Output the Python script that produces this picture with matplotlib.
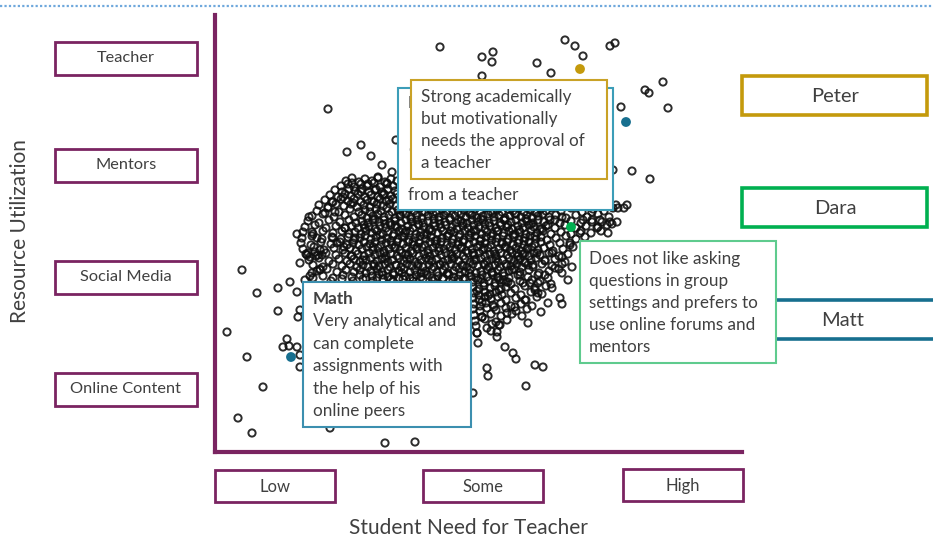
import matplotlib
matplotlib.use("Agg")
import matplotlib.pyplot as plt
from matplotlib.patches import Rectangle
import numpy as np

FONT = ['Lato', 'DejaVu Sans']
TEXT = '#404040'
PURPLE = '#7A2461'
GOLD = '#C49A0C'
GREEN = '#00B050'
TEAL = '#176F8F'

# Student need for teacher (x) vs resource utilization (y), arbitrary units.
# Sparse students around the edge of the cloud
spread_pts = [
    (225, 405), (267, 395), (278, 400), (277, 390), (322, 389), (336, 379), (350, 412),
    (360, 406), (368, 396), (395, 406), (400, 409), (267, 376), (448, 370), (430, 362),
    (434, 359), (453, 344), (406, 345), (398, 282), (417, 281), (435, 273), (412, 247),
    (403, 244), (377, 240), (368, 232), (377, 230), (385, 232), (395, 230), (402, 230),
    (383, 225), (393, 219), (365, 219), (347, 235), (340, 232),
    (113, 343), (132, 300), (146, 307), (156, 296), (167, 287), (163, 275), (177, 280),
    (172, 269), (181, 312), (137, 269),
    (117, 250), (110, 239), (120, 240), (94, 235), (82, 218), (97, 220), (102, 214),
    (130, 224), (118, 214), (122, 209), (105, 202), (93, 199), (95, 195), (103, 197),
    (85, 189), (105, 183), (27, 182), (75, 170), (63, 164), (42, 159), (82, 160),
    (95, 176), (98, 174), (92, 197), (100, 200), (107, 197), (97, 179), (105, 182), (90, 172),
    (63, 141), (85, 142), (83, 135), (12, 120), (32, 95), (72, 113), (68, 105), (74, 106),
    (82, 105), (85, 97), (85, 85), (48, 65), (23, 34), (37, 19), (115, 24), (170, 9), (200, 10),
    (337, 164), (345, 154), (347, 148), (333, 149), (326, 140), (313, 129), (290, 105),
    (298, 99), (301, 93), (320, 87), (328, 85), (272, 84), (273, 76), (311, 66), (258, 59),
    (282, 115), (282, 120), (277, 128), (285, 127), (263, 109), (262, 119), (267, 135),
    (292, 139), (300, 145), (310, 152), (323, 159), (320, 162), (353, 172), (347, 179),
    (357, 185), (347, 195), (355, 209), (340, 184), (330, 177), (318, 187), (310, 189),
    (305, 177), (297, 182), (293, 170), (283, 175), (308, 169), (317, 172), (323, 169),
    (330, 192), (337, 199), (322, 199), (310, 199),
]

# Dense middle of the cloud
core_pts = [
    (131, 271), (137, 274), (144, 270), (150, 273), (157, 271), (163, 274), (170, 270), (176, 273), (182, 271),
    (126, 266), (133, 268), (139, 265), (146, 268), (152, 266), (159, 269), (165, 265), (172, 268), (178, 266),
    (120, 262), (127, 260), (134, 263), (140, 261), (147, 263), (154, 260), (160, 262), (167, 260), (173, 263), (180, 261),
    (115, 257), (123, 255), (130, 258), (136, 256), (143, 258), (150, 255), (156, 257), (163, 255), (169, 258), (176, 256), (182, 258),
    (110, 252), (118, 250), (126, 253), (133, 251), (139, 253), (146, 250), (152, 252), (159, 250), (165, 253), (171, 251), (178, 253),
    (104, 247), (113, 245), (121, 248), (129, 246), (136, 248), (142, 245), (149, 247), (155, 245), (162, 248), (168, 246), (175, 248),
    (181, 246), (401, 247), (409, 244),
    (102, 241), (113, 244), (124, 240), (135, 243), (144, 240), (150, 242), (155, 240), (161, 243), (166, 241), (172, 244), (177, 240),
    (183, 242), (188, 240), (194, 243), (199, 241), (205, 244), (210, 240), (216, 242), (221, 240), (227, 243), (232, 241), (238, 244),
    (243, 240), (249, 242), (254, 240), (260, 243), (265, 241), (271, 244), (276, 240), (282, 242), (287, 240), (293, 243), (298, 241),
    (304, 244), (309, 240), (315, 242), (320, 240), (326, 243), (331, 241), (337, 244), (346, 241), (356, 244), (367, 240), (378, 243),
    (389, 241), (398, 244),
    (97, 236), (108, 238), (119, 235), (130, 237), (139, 235), (147, 237), (152, 234), (158, 236), (163, 238), (169, 235), (174, 237),
    (180, 234), (185, 236), (191, 238), (196, 235), (202, 237), (207, 234), (213, 236), (218, 238), (224, 235), (229, 237), (235, 234),
    (240, 236), (246, 238), (251, 235), (257, 237), (262, 234), (268, 236), (273, 238), (279, 235), (284, 237), (290, 234), (295, 236),
    (301, 238), (306, 235), (312, 237), (317, 234), (323, 236), (328, 238), (334, 235), (341, 237), (351, 234), (361, 237), (372, 235),
    (383, 238), (394, 235),
    (93, 231), (104, 229), (114, 232), (125, 230), (134, 232), (141, 229), (147, 231), (153, 229), (158, 232), (164, 230), (169, 232),
    (175, 229), (180, 231), (186, 229), (191, 232), (197, 230), (202, 232), (208, 229), (213, 231), (219, 229), (224, 232), (230, 230),
    (235, 232), (241, 229), (246, 231), (252, 229), (257, 232), (263, 230), (268, 232), (274, 229), (279, 231), (285, 229), (290, 232),
    (296, 230), (301, 232), (307, 229), (312, 231), (318, 229), (323, 232), (329, 230), (335, 232), (345, 229), (356, 231), (366, 229),
    (377, 232), (387, 230), (397, 228),
    (90, 225), (100, 227), (111, 224), (121, 226), (130, 224), (137, 226), (143, 224), (149, 227), (154, 225), (160, 223), (165, 226),
    (171, 224), (176, 227), (182, 225), (187, 223), (193, 226), (198, 224), (204, 227), (209, 225), (215, 223), (220, 226), (226, 224),
    (231, 227), (237, 225), (242, 223), (248, 226), (253, 224), (259, 227), (264, 225), (270, 223), (275, 226), (281, 224), (286, 227),
    (292, 225), (297, 223), (303, 226), (308, 224), (314, 227), (319, 225), (325, 223), (331, 226), (340, 224), (350, 227), (361, 224),
    (371, 226), (382, 224), (392, 227),
    (88, 220), (98, 218), (108, 221), (118, 219), (127, 221), (134, 218), (140, 220), (146, 218), (151, 221), (157, 219), (162, 221),
    (168, 218), (173, 220), (179, 218), (184, 221), (190, 219), (195, 221), (201, 218), (206, 220), (212, 218), (217, 221), (223, 219),
    (228, 221), (234, 218), (239, 220), (245, 218), (250, 221), (256, 219), (261, 221), (267, 218), (272, 220), (278, 218), (283, 221),
    (289, 219), (294, 221), (300, 218), (305, 220), (311, 218), (316, 221), (322, 219), (328, 221), (336, 218), (346, 220), (356, 218),
    (366, 221), (376, 219), (386, 221),
    (87, 214), (97, 216), (107, 213), (117, 215), (126, 213), (133, 215), (139, 212), (145, 214), (150, 216), (156, 213), (161, 215),
    (167, 212), (172, 214), (178, 216), (183, 213), (189, 215), (194, 212), (200, 214), (205, 216), (211, 213), (216, 215), (222, 212),
    (227, 214), (233, 216), (238, 213), (244, 215), (249, 212), (255, 214), (260, 216), (266, 213), (271, 215), (277, 212), (282, 214),
    (288, 216), (293, 213), (299, 215), (304, 212), (310, 214), (315, 216), (321, 213), (326, 215), (332, 212), (341, 214), (351, 216),
    (361, 213), (370, 215),
    (86, 209), (96, 207), (106, 210), (116, 208), (125, 210), (132, 207), (138, 209), (144, 207), (149, 210), (155, 208), (160, 210),
    (166, 207), (171, 209), (177, 207), (182, 210), (188, 208), (193, 210), (199, 207), (204, 209), (210, 207), (215, 210), (221, 208),
    (226, 210), (232, 207), (237, 209), (243, 207), (248, 210), (254, 208), (259, 210), (265, 207), (270, 209), (276, 207), (281, 210),
    (287, 208), (292, 210), (298, 207), (303, 209), (309, 207), (314, 210), (320, 208), (326, 210), (335, 207), (345, 209), (355, 207),
    (88, 203), (99, 205), (109, 202), (119, 204), (128, 202), (135, 204), (141, 201), (147, 203), (152, 205), (158, 202), (163, 204),
    (169, 201), (174, 203), (180, 205), (185, 202), (191, 204), (196, 201), (202, 203), (207, 205), (213, 202), (218, 204), (224, 201),
    (229, 203), (235, 205), (240, 202), (246, 204), (251, 201), (257, 203), (262, 205), (268, 202), (273, 204), (279, 201), (284, 203),
    (290, 205), (295, 202), (301, 204), (306, 201), (312, 203), (317, 205), (323, 202), (329, 204), (338, 201), (348, 203), (358, 205),
    (91, 198), (101, 196), (111, 199), (121, 197), (130, 199), (137, 196), (143, 198), (149, 196), (154, 199), (160, 197), (165, 199),
    (171, 196), (176, 198), (182, 196), (187, 199), (193, 197), (198, 199), (204, 196), (209, 198), (215, 196), (220, 199), (226, 197),
    (231, 199), (237, 196), (242, 198), (248, 196), (253, 199), (259, 197), (264, 199), (270, 196), (275, 198), (281, 196), (286, 199),
    (292, 197), (297, 199), (303, 196), (308, 198), (314, 196), (319, 199), (325, 197), (334, 199), (344, 196), (353, 198),
    (94, 192), (104, 194), (114, 191), (124, 193), (132, 191), (139, 193), (145, 190), (151, 192), (156, 194), (162, 191), (167, 193),
    (173, 190), (178, 192), (184, 194), (189, 191), (195, 193), (200, 190), (206, 192), (211, 194), (217, 191), (222, 193), (228, 190),
    (233, 192), (239, 194), (244, 191), (250, 193), (255, 190), (261, 192), (266, 194), (272, 191), (277, 193), (283, 190), (288, 192),
    (294, 194), (299, 191), (305, 193), (310, 190), (316, 192), (321, 194), (330, 191), (340, 193), (350, 190),
    (98, 187), (108, 185), (118, 188), (127, 186), (135, 188), (142, 185), (148, 187), (153, 185), (159, 188), (164, 186), (170, 188),
    (175, 185), (181, 187), (186, 185), (192, 188), (197, 186), (203, 188), (208, 185), (214, 187), (219, 185), (225, 188), (230, 186),
    (236, 188), (241, 185), (247, 187), (252, 185), (258, 188), (263, 186), (269, 188), (274, 185), (280, 187), (285, 185), (291, 188),
    (296, 186), (302, 188), (307, 185), (313, 187), (318, 185), (327, 188), (337, 186), (347, 188),
    (102, 181), (112, 183), (122, 180), (131, 182), (139, 180), (145, 182), (151, 179), (156, 181), (162, 183), (167, 180), (173, 182),
    (178, 179), (184, 181), (189, 183), (195, 180), (200, 182), (206, 179), (211, 181), (217, 183), (222, 180), (228, 182), (233, 179),
    (239, 181), (244, 183), (250, 180), (255, 182), (261, 179), (266, 181), (272, 183), (277, 180), (283, 182), (288, 179), (294, 181),
    (299, 183), (305, 180), (314, 182), (324, 179), (334, 181), (344, 183),
    (108, 176), (118, 174), (128, 177), (137, 175), (145, 177), (151, 174), (157, 176), (162, 174), (168, 177), (173, 175), (179, 177),
    (184, 174), (190, 176), (195, 174), (201, 177), (206, 175), (212, 177), (217, 174), (223, 176), (228, 174), (234, 177), (239, 175),
    (245, 177), (250, 174), (256, 176), (261, 174), (267, 177), (272, 175), (278, 177), (283, 174), (289, 176), (294, 174), (303, 177),
    (313, 175), (323, 177), (333, 174),
    (116, 171), (127, 173), (138, 171), (148, 173), (158, 171), (168, 173), (178, 171), (188, 173), (198, 171), (208, 173), (218, 171),
    (228, 173), (238, 171), (248, 173), (258, 170), (263, 172), (269, 169), (274, 171), (280, 169), (285, 172), (291, 170), (296, 168),
    (305, 171), (315, 169), (325, 171), (336, 168),
    (258, 165), (264, 163), (269, 166), (275, 164), (280, 166), (286, 163), (291, 165), (300, 163), (310, 166), (320, 164), (331, 166),
    (259, 159), (264, 157), (270, 160), (275, 158), (281, 160), (287, 157), (296, 159), (306, 157), (316, 160), (327, 158),
    (258, 154), (264, 152), (270, 155), (276, 153), (283, 155), (291, 152), (301, 154), (311, 152), (322, 155),
    (259, 148), (265, 146), (271, 149), (278, 147), (286, 149), (296, 146), (306, 148), (317, 146),
    (258, 143), (265, 141), (272, 144), (281, 142), (291, 144), (301, 141), (312, 143),
    (259, 137), (267, 135), (276, 138), (286, 136), (297, 138), (307, 136),
    (260, 131), (270, 133), (281, 130), (292, 132),
    (261, 126), (272, 124), (284, 127),
    (262, 119), (276, 121),
]

# extra students in the darkest part of the cloud
core_fill = [
    (153, 268), (161, 263), (168, 257), (174, 252), (157, 251), (146, 260), (138, 249), (128, 255),
    (185, 238), (196, 233), (207, 240), (219, 233), (231, 239), (243, 232), (255, 238), (266, 233),
    (278, 239), (289, 232), (300, 238), (311, 233), (322, 239), (333, 227), (180, 226), (191, 221),
    (203, 228), (214, 222), (225, 228), (236, 221), (248, 229), (259, 222), (270, 228), (282, 221),
    (293, 227), (304, 222), (316, 228), (327, 223), (160, 233), (170, 228), (150, 224), (165, 217),
    (176, 211), (187, 216), (198, 210), (209, 217), (220, 211), (232, 216), (243, 210), (254, 217),
    (265, 211), (276, 216), (287, 210), (298, 217), (309, 211), (320, 216), (158, 205), (169, 199),
    (180, 204), (191, 198), (202, 205), (213, 199), (224, 204), (236, 198), (247, 205), (258, 199),
    (269, 204), (280, 198), (291, 205), (302, 199), (313, 204), (148, 192), (159, 186), (170, 193),
    (181, 187), (192, 193), (203, 186), (214, 192), (225, 187), (237, 193), (248, 186), (259, 192),
    (270, 187), (281, 193), (292, 186), (303, 192), (164, 178), (176, 173), (187, 179), (198, 174),
    (209, 179), (220, 173), (232, 178), (243, 173), (254, 179), (266, 173), (277, 179), (288, 172),
    (262, 161), (273, 156), (284, 162), (267, 150), (279, 145), (140, 214), (129, 205), (136, 196),
]

# highlighted students
hl_x = [365, 411, 356, 76]
hl_y = [383, 330, 225, 95]
hl_col = [GOLD, TEAL, GREEN, TEAL]

y_levels = ['Teacher', 'Mentors', 'Social Media', 'Online Content']
x_levels = ['Low', 'Some', 'High']
students = ['Peter', 'Dara', 'Matt']

peter_note = ['Strong academically', 'but motivationally', 'needs the approval of', 'a teacher']
# only the first letters of the hidden lines peek out from behind Peter's note
english_peek = ['E', 'N', 'c', 'P', 'from a teacher']
dara_note = ['Does not like asking', 'questions in group', 'settings and prefers to',
             'use online forums and', 'mentors']
math_note = ['Math', 'Very analytical and', 'can complete', 'assignments with',
             'the help of his', 'online peers']


W, H = 933, 540
fig = plt.figure(figsize=(W / 100, H / 100), dpi=100)
fig.patch.set_facecolor('white')

# ---- scatter axes --------------------------------------------------
ax = fig.add_axes([215 / W, 1 - 452 / H, 527 / W, 437 / H], zorder=1)
pts = np.array(spread_pts + core_pts + core_fill)
ax.scatter(pts[:, 0], pts[:, 1], s=27, facecolors='none', edgecolors='#0f0f0f',
           linewidths=1.4, alpha=0.88, zorder=2)
ax.scatter(hl_x, hl_y, s=50, c=hl_col, edgecolors='none', zorder=3)
ax.set_xlim(0, 527)
ax.set_ylim(0, 437)
ax.set_xticks([])
ax.set_yticks([])
for side in ('top', 'right'):
    ax.spines[side].set_visible(False)
for side in ('left', 'bottom'):
    ax.spines[side].set_color(PURPLE)
    ax.spines[side].set_linewidth(3)

# ---- overlay in pixel units for the callouts -----------------------
ov = fig.add_axes([0, 0, 1, 1], zorder=5)
ov.set_xlim(0, W)
ov.set_ylim(H, 0)
ov.axis('off')
ov.patch.set_visible(False)

ov.plot([0, W], [6, 6], color='#6FA8DC', lw=1.6, ls=(0, (1, 1)))


def box(x0, y0, x1, y1, color, lw=2.0, z=2):
    ov.add_patch(Rectangle((x0, y0), x1 - x0, y1 - y0, facecolor='white',
                           edgecolor=color, lw=lw, zorder=z))


def label(x, y, s, size=12, z=3, **kw):
    ov.text(x, y, s, fontsize=size, color=TEXT, family=FONT, va='center', zorder=z, **kw)


# category boxes
for lab, yc in zip(y_levels, [58, 165, 277, 389]):
    box(55, yc - 16.5, 197, yc + 16.5, PURPLE)
    label(126, yc, lab, size=11.8, ha='center')

for lab, (x0, y0) in zip(x_levels, [(215, 470), (423, 470), (623, 469)]):
    box(x0, y0, x0 + 120, y0 + 32, PURPLE)
    label(x0 + 60, y0 + 17, lab, size=12, ha='center')

label(468, 528, 'Student Need for Teacher', size=15, ha='center')
label(20, 231, 'Resource Utilization', size=15, ha='center', rotation=90)

# student name boxes
for name, (y0, col) in zip(students, [(76, GOLD), (188, GREEN), (300, TEAL)]):
    x1 = 927 if name != 'Matt' else 960
    box(742, y0, x1, y0 + 39, col, lw=2.6, z=1)
    label(835 if name != 'Matt' else 843, y0 + 21, name, size=14.5, ha='center', z=1.5)

# callout notes
box(398, 88, 613, 210, '#3C9DB8', lw=1.5, z=2)
for i, line in enumerate(english_peek):
    label(408, 103 + i * 23, line, size=12.3, z=2.5,
          fontweight='bold' if i == 0 else 'normal')

box(411, 80, 607, 179, '#C9A227', lw=1.5, z=4)
for i, line in enumerate(peter_note):
    label(421, 97 + i * 22, line, size=12.3, z=4.5)

box(580, 241, 776, 363, '#5FCB8E', lw=1.5, z=4)
for i, line in enumerate(dara_note):
    label(589, 259 + i * 22, line, size=12.3, z=4.5)

box(303, 282, 471, 427, '#3C8FAF', lw=1.5, z=4)
for i, line in enumerate(math_note):
    label(313, 299 + i * 22.4, line, size=12.3, z=4.5,
          fontweight='bold' if i == 0 else 'normal')

fig.savefig('out.png', dpi=100, facecolor='white')
